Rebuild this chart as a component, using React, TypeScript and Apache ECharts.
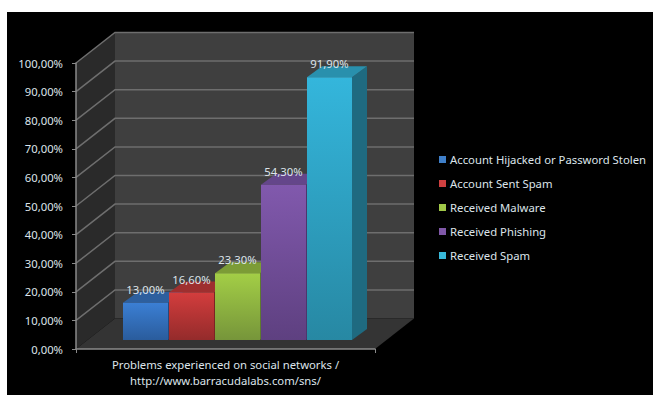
import React, { useEffect, useRef } from "react";
import * as echarts from "echarts";

const categories = ["Problems experienced on social networks /\nhttp://www.barracudalabs.com/sns/"];
const seriesNames = [
  "Account Hijacked or Password Stolen",
  "Account Sent Spam",
  "Received Malware",
  "Received Phishing",
  "Received Spam",
];
const seriesValues = [13.0, 16.6, 23.3, 54.3, 91.9];
const tickValues = [0, 10, 20, 30, 40, 50, 60, 70, 80, 90, 100];
const frontTop = ["#3b7fd4", "#d33d3d", "#a3ce46", "#8159ad", "#34b6dc"];
const frontBottom = ["#2a5c9c", "#942b2b", "#76953a", "#5e4080", "#2788a3"];
const sideColors = ["#24497c", "#7a2424", "#5f7a2e", "#4e356c", "#1f6a80"];
const topColors = ["#2d5f9e", "#9e2f2f", "#7c9c36", "#64468a", "#2990ad"];
const legendColors = ["#3f7fc9", "#cf4040", "#a0c848", "#8058a8", "#38b8d8"];

const fmt = (v: number) => v.toFixed(2).replace(".", ",") + "%";
const FONT = "Noto Sans";
const FONT_SIZE = 11.3;
const TEXT = "#dde4ea";
const DX = 39, DY = -30.5;
const BAR_W = 45, BAR_STEP = 46, BAR_DX = 12, BAR_DY = -9, BAR_DEPTH_X = 15, BAR_DEPTH_Y = -11;

export default function App() {
  const ref = useRef<HTMLDivElement>(null);
  useEffect(() => {
    document.body.style.margin = "0";
    const chart = echarts.init(ref.current!, null, { renderer: "svg" });

    const wallSeries: any = {
      type: "custom",
      name: "walls",
      z: 1,
      silent: true,
      data: tickValues.map((v) => [0, v]),
      encode: { x: 0, y: 1 },
      renderItem: (params: any, api: any) => {
        const v = api.value(1);
        const y = api.coord([0, v])[1];
        const y100 = api.coord([0, 100])[1];
        const y0 = api.coord([0, 0])[1];
        const cs = params.coordSys;
        const xl = cs.x, xr = cs.x + cs.width;
        const children: any[] = [];
        if (v === 0) {
          children.push(
            { type: "rect", shape: { x: xl + DX, y: y100 + DY, width: xr - xl, height: y0 - y100 }, style: { fill: "#3f3f3f" } },
            { type: "polygon", shape: { points: [[xl, y100], [xl + DX, y100 + DY], [xl + DX, y0 + DY], [xl, y0]] }, style: { fill: "#2a2a2a" } },
            { type: "polygon", shape: { points: [[xl, y0], [xl + DX, y0 + DY], [xr + DX, y0 + DY], [xr, y0]] }, style: { fill: "#343434" } }
          );
        } else {
          children.push({
            type: "polyline",
            shape: { points: [[xl, y], [xl + DX, y + DY], [xr + DX, y + DY]] },
            style: { fill: "none", stroke: "#6e6e6e", lineWidth: 1.5 },
          });
        }
        return { type: "group", children };
      },
    };

    const barSeries = seriesNames.map((name, i) => ({
      type: "custom",
      name,
      z: 3,
      data: [[0, seriesValues[i]]],
      encode: { x: 0, y: 1 },
      itemStyle: { color: legendColors[i] },
      renderItem: (_p: any, api: any) => {
        const top = api.coord([0, api.value(1)]);
        const base = api.coord([0, 0]);
        const cx = base[0] + (i - 2) * BAR_STEP + BAR_DX;
        const x0 = cx - BAR_W / 2, x1 = cx + BAR_W / 2;
        const yt = top[1] + BAR_DY, yb = base[1] + BAR_DY;
        return {
          type: "group",
          children: [
            { type: "polygon", shape: { points: [[x1, yt], [x1 + BAR_DEPTH_X, yt + BAR_DEPTH_Y], [x1 + BAR_DEPTH_X, yb + BAR_DEPTH_Y], [x1, yb]] }, style: { fill: sideColors[i] } },
            { type: "polygon", shape: { points: [[x0, yt], [x0 + BAR_DEPTH_X, yt + BAR_DEPTH_Y], [x1 + BAR_DEPTH_X, yt + BAR_DEPTH_Y], [x1, yt]] }, style: { fill: topColors[i] } },
            {
              type: "rect",
              shape: { x: x0, y: yt, width: BAR_W, height: yb - yt },
              style: {
                fill: new echarts.graphic.LinearGradient(0, 0, 0, 1, [
                  { offset: 0, color: frontTop[i] },
                  { offset: 1, color: frontBottom[i] },
                ]),
              },
            },
            {
              type: "text",
              z2: 100,
              style: {
                x: cx,
                y: yt - 13.5,
                text: fmt(api.value(1)),
                fill: TEXT,
                font: `${FONT_SIZE}px "${FONT}"`,
                align: "center",
                verticalAlign: "middle",
              },
            },
          ],
        };
      },
    }));

    chart.setOption({
      animation: false,
      backgroundColor: "#ffffff",
      textStyle: { fontFamily: FONT },
      graphic: [
        { type: "rect", z: -10, shape: { x: 7, y: 12, width: 646, height: 383 }, style: { fill: "#000000" } },
      ],
      grid: { left: 76, top: 63, width: 299, height: 286 },
      xAxis: {
        type: "category",
        data: categories,
        z: 5,
        axisLine: { lineStyle: { color: "#8a8a8a", width: 1.5 } },
        axisTick: { show: true, length: 4, lineStyle: { color: "#8a8a8a" } },
        axisLabel: { color: TEXT, fontSize: FONT_SIZE, fontFamily: FONT, lineHeight: 16, margin: 7 },
      },
      yAxis: {
        type: "value",
        min: 0,
        max: 100,
        interval: 10,
        z: 5,
        splitLine: { show: false },
        axisLine: { show: true, lineStyle: { color: "#8a8a8a", width: 1.5 } },
        axisTick: { show: true, length: 4, lineStyle: { color: "#8a8a8a" } },
        axisLabel: { color: TEXT, fontSize: FONT_SIZE, fontFamily: FONT, margin: 13, formatter: (v: number) => fmt(v) },
      },
      legend: {
        orient: "vertical",
        left: 439,
        top: 152,
        padding: 0,
        data: seriesNames.map((name) => ({ name, icon: "rect" })),
        itemWidth: 7,
        itemHeight: 7,
        itemGap: 9,
        selectedMode: false,
        textStyle: { color: TEXT, fontSize: FONT_SIZE, fontFamily: FONT, lineHeight: 15, padding: [0, 0, 0, -1] },
      },
      series: [wallSeries, ...barSeries],
    });
    return () => chart.dispose();
  }, []);
  return <div ref={ref} style={{ width: 653, height: 395 }} />;
}
